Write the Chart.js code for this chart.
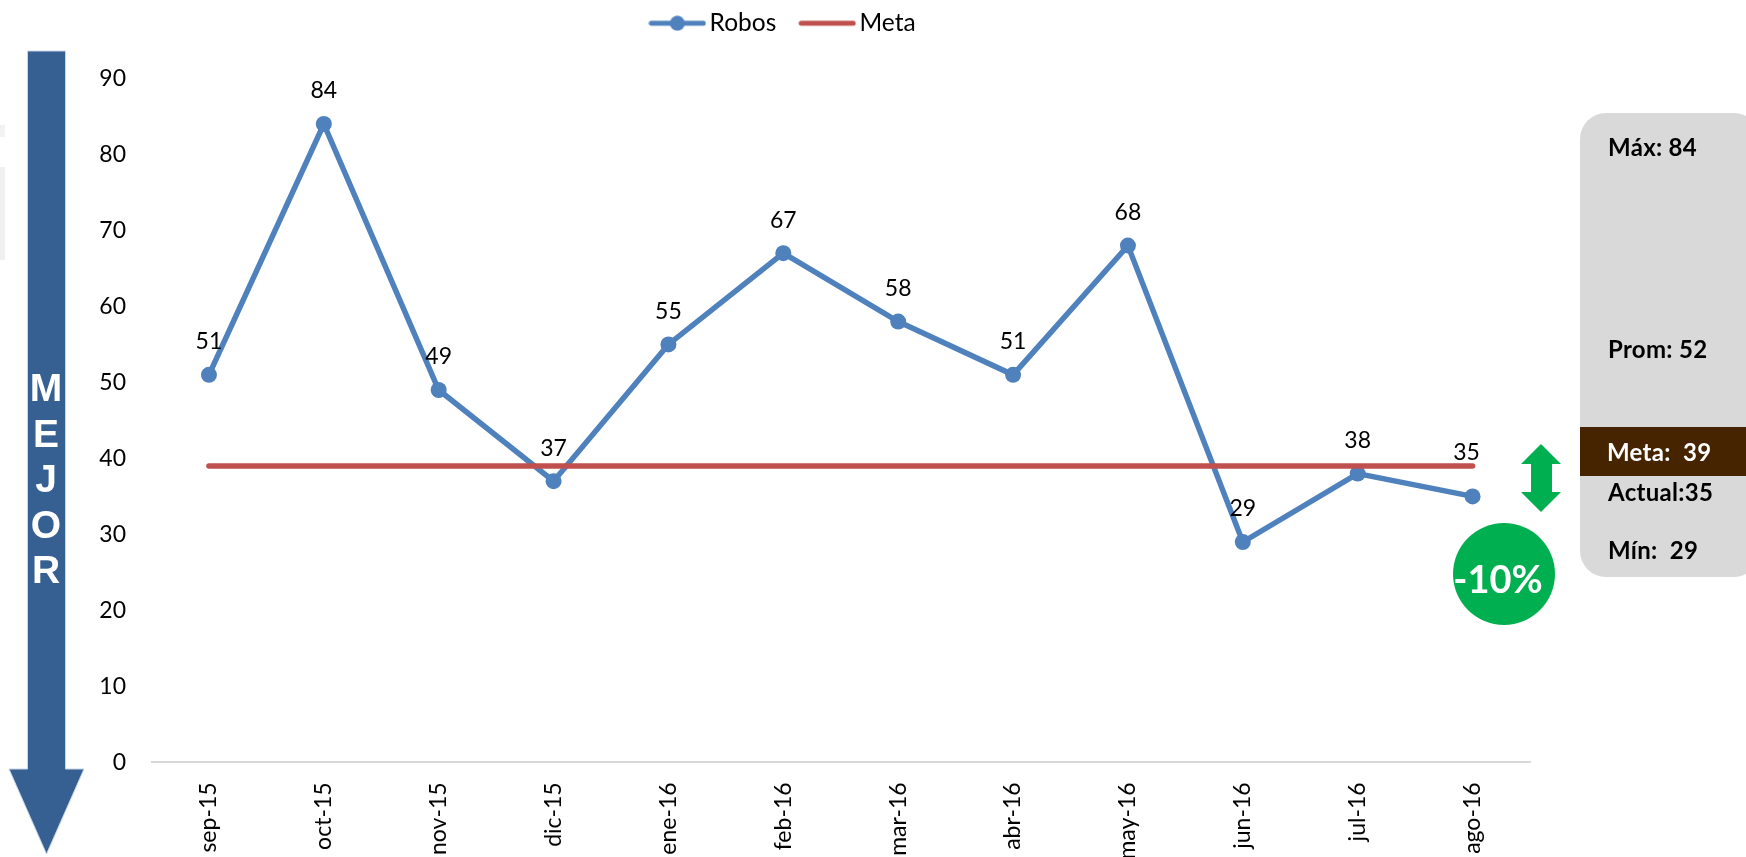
<!DOCTYPE html>
<html lang="es">
<head>
<meta charset="utf-8">
<title>Robos</title>
<script src="https://cdn.jsdelivr.net/npm/chart.js@4"></script>
<style>
html,body{margin:0;padding:0;background:#fff;overflow:hidden}
#wrap{position:relative;width:1746px;height:857px;overflow:hidden}
#c{position:absolute;left:0;top:0;display:block}
svg{position:absolute;left:0;top:0;pointer-events:none}
.ov{position:absolute;white-space:pre;font-family:Lato,sans-serif;font-weight:700;font-size:24px;line-height:30px;letter-spacing:.3px;color:#000}
.mejor{position:absolute;left:16px;width:60px;text-align:center;font:700 39px/45.5px "Liberation Sans",Arial,sans-serif;color:#fff}
</style>
</head>
<body>
<div id="wrap">
<svg width="1746" height="857" style="z-index:0">
  <rect x="0" y="125" width="5" height="12" fill="#f2f2f2"/>
  <rect x="0" y="167" width="5" height="93" fill="#f0f0f0"/>
  <polygon points="27.5,51 65.5,51 65.5,769 84,769 46.5,854 9,769 27.5,769" fill="#376092" stroke="#c6d4e8" stroke-width="1"/>
  <rect x="1580" y="113" width="180" height="464" rx="26" ry="26" fill="#d9d9d9"/>
  <rect x="1580" y="427" width="166" height="49" fill="#472400"/>
  <polygon points="1541,444 1561,464 1552,464 1552,492 1561,492 1541,512 1521,492 1531,492 1531,464 1521,464" fill="#00b050"/>
  <circle cx="1504" cy="574" r="51" fill="#00b050"/>
</svg>
<canvas id="c" width="1746" height="857" style="z-index:1"></canvas>
<div id="mejor"></div>
<div id="panel"></div>
</div>
<script>
const categories = ['sep-15','oct-15','nov-15','dic-15','ene-16','feb-16','mar-16','abr-16','may-16','jun-16','jul-16','ago-16'];
const robos = [51,84,49,37,55,67,58,51,68,29,38,35];
const meta = [39,39,39,39,39,39,39,39,39,39,39,39];
const yTicks = [0,10,20,30,40,50,60,70,80,90];
const arrowLetters = ['M','E','J','O','R'];
const panelTexts = ['Máx: 84','Prom: 52','Meta:  39','Actual:35','Mín:  29'];
const badgeText = '-10%';

const BLUE = '#4f81bd', RED = '#c0504d', FONT = 'Lato, sans-serif';

function legendSwatch(color, withDot){
  const c = document.createElement('canvas');
  c.width = 58; c.height = 16;
  const x = c.getContext('2d');
  x.strokeStyle = color; x.lineWidth = 5; x.lineCap = 'round';
  x.beginPath(); x.moveTo(3,8); x.lineTo(55,8); x.stroke();
  if (withDot){ x.fillStyle = color; x.beginPath(); x.arc(29,8,7.5,0,Math.PI*2); x.fill(); }
  return c;
}
const swatches = [legendSwatch(BLUE,true), legendSwatch(RED,false)];

const layoutTweaks = {
  id:'layoutTweaks',
  beforeLayout(chart){
    const l = chart.legend;
    if (l && !l._patched){
      const fit = l.fit;
      l.fit = function(){ fit.call(this); this.height = 78.4; };
      l._patched = true;
    }
  },
  afterLayout(chart){ chart.legend.top = -20; }
};

const valueLabels = {
  id:'valueLabels',
  afterDatasetsDraw(chart){
    const {ctx} = chart;
    const pts = chart.getDatasetMeta(0).data;
    ctx.save();
    ctx.font = '23px ' + FONT;
    ctx.fillStyle = '#000';
    ctx.textAlign = 'center';
    ctx.textBaseline = 'middle';
    pts.forEach((p,i)=>{
      const last = i === pts.length-1;
      ctx.fillText(String(robos[i]), p.x - (last?6:0), p.y - (last?44:33));
    });
    ctx.restore();
  }
};

new Chart(document.getElementById('c'),{
  type:'line',
  data:{
    labels:categories,
    datasets:[
      {label:'Robos',data:robos,borderColor:BLUE,backgroundColor:BLUE,borderWidth:5.5,tension:0,
       pointRadius:8,pointHoverRadius:8,pointBackgroundColor:BLUE,pointBorderColor:BLUE,pointBorderWidth:0,order:2},
      {label:'Meta',data:meta,borderColor:RED,backgroundColor:RED,borderWidth:5.5,tension:0,
       pointRadius:0,borderCapStyle:'round',order:1}
    ]
  },
  options:{
    responsive:false,
    animation:false,
    layout:{padding:{left:43,right:216,top:0,bottom:0}},
    plugins:{
      tooltip:{enabled:false},
      legend:{
        display:true,position:'top',
        labels:{
          font:{family:FONT,size:24.5},color:'#000',padding:31,
          usePointStyle:true,pointStyleWidth:40,
          sort(a,b){ return a.datasetIndex - b.datasetIndex; },
          generateLabels(chart){
            const items = Chart.defaults.plugins.legend.labels.generateLabels(chart);
            items.forEach(it=>{ it.pointStyle = swatches[it.datasetIndex]; });
            return items;
          }
        }
      }
    },
    scales:{
      x:{
        offset:true,
        grid:{display:false,drawTicks:false,offset:true},
        border:{display:true,color:'#d9d9d9',width:2},
        afterFit(s){ s.height = 94.6; },
        ticks:{autoSkip:false,minRotation:90,maxRotation:90,padding:20,color:'#000',font:{family:FONT,size:23}}
      },
      y:{
        min:0,max:90,
        grid:{display:false,drawTicks:false},
        border:{display:false},
        afterFit(s){ s.width = 108.5; },
        afterBuildTicks(s){ s.ticks = yTicks.map(v=>({value:v})); },
        ticks:{padding:25.5,color:'#000',font:{family:FONT,size:23}}
      }
    }
  },
  plugins:[layoutTweaks,valueLabels]
});

// Letters on the arrow
const mj = document.getElementById('mejor');
arrowLetters.forEach((t,i)=>{
  const d = document.createElement('div');
  d.className = 'mejor'; d.textContent = t;
  d.style.left = '16px'; d.style.top = (365 + i*45.5) + 'px';
  d.style.zIndex = 2;
  mj.appendChild(d);
});

// Side panel texts
const panelPos = [[1608,132,'#000'],[1608,334,'#000'],[1607,437,'#fff'],[1608,477,'#000'],[1608,535,'#000']];
const pn = document.getElementById('panel');
panelTexts.forEach((t,i)=>{
  const d = document.createElement('div');
  d.className = 'ov'; d.textContent = t;
  d.style.left = panelPos[i][0]+'px'; d.style.top = panelPos[i][1]+'px'; d.style.color = panelPos[i][2];
  d.style.zIndex = 2;
  pn.appendChild(d);
});
const b = document.createElement('div');
b.className = 'ov'; b.textContent = badgeText;
b.style.cssText = 'left:1453px;top:553px;width:90px;text-align:center;color:#fff;font-size:38px;line-height:50px;letter-spacing:0;z-index:2';
pn.appendChild(b);
</script>
</body>
</html>
